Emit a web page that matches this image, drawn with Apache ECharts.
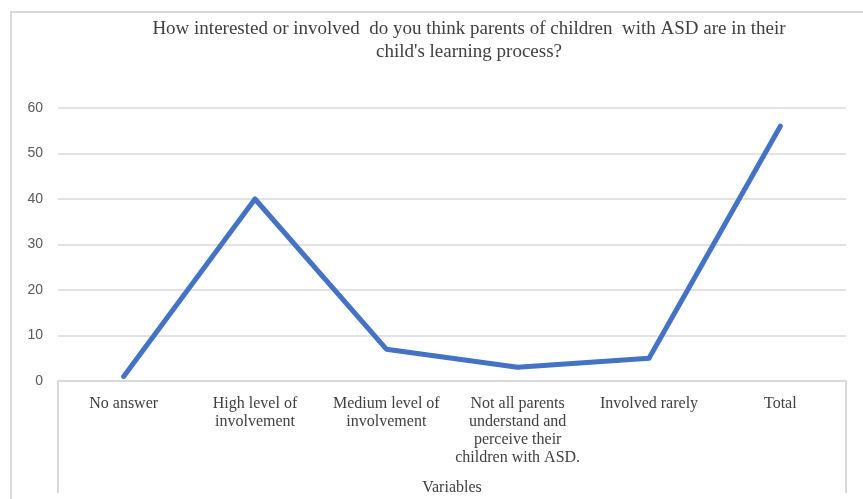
<!DOCTYPE html>
<html>
<head>
<meta charset="utf-8">
<script src="https://cdn.jsdelivr.net/npm/echarts@6/dist/echarts.min.js"></script>
<style>
html,body{margin:0;padding:0;background:#fff;overflow:hidden;}
#frame{position:absolute;left:10px;top:11px;width:880px;height:520px;border:2px solid #d9d9d9;box-sizing:border-box;}
#chart{position:absolute;left:0;top:0;width:863px;height:499px;}
</style>
</head>
<body>
<div id="frame"></div>
<div id="chart"></div>
<script>
const categories = [
  "No answer",
  "High level of\ninvolvement",
  "Medium level of\ninvolvement",
  "Not all parents\nunderstand and\nperceive their\nchildren with ASD.",
  "Involved rarely",
  "Total"
];
const values = [1, 40, 7, 3, 5, 56];
const titleText = "How interested or involved  do you think parents of children  with ASD are in their\nchild's learning process?";
const xAxisName = "Variables";

const chart = echarts.init(document.getElementById('chart'), null, {renderer: 'canvas', width: 863, height: 499});
const serif = "'Liberation Serif', 'DejaVu Serif', serif";
chart.setOption({
  animation: false,
  backgroundColor: 'transparent',
  title: {
    text: titleText,
    left: 464,
    top: 13,
    textAlign: 'center',
    textStyle: {fontFamily: serif, fontSize: 19, fontWeight: 'normal', color: '#404040', lineHeight: 23}
  },
  grid: {left: 58, right: 17, top: 108, height: 273, containLabel: false, outerBoundsMode: 'none'},
  xAxis: {
    type: 'category',
    data: categories,
    boundaryGap: true,
    axisLine: {show: true, lineStyle: {color: '#d9d9d9', width: 2}},
    axisTick: {show: false},
    axisLabel: {interval: 0, fontFamily: serif, fontSize: 16, color: '#404040', lineHeight: 18, margin: 14},
    name: xAxisName,
    nameLocation: 'middle',
    nameGap: 99,
    nameTextStyle: {fontFamily: serif, fontSize: 16, color: '#404040'}
  },
  yAxis: {
    type: 'value',
    min: 0, max: 60, interval: 10,
    axisLine: {show: false},
    axisTick: {show: false},
    axisLabel: {fontFamily: "'Liberation Sans', Arial, sans-serif", fontSize: 14, color: '#595959', margin: 15},
    splitLine: {lineStyle: {color: '#d9d9d9', width: 1.5}}
  },
  series: [{
    type: 'line',
    data: values,
    symbol: 'none',
    lineStyle: {color: '#4472C4', width: 5, cap: 'round', join: 'round'},
    itemStyle: {color: '#4472C4'}
  }]
});

// vertical boundary lines extending from axis ends down through label area
const grid = chart.getModel().getComponent('grid').coordinateSystem.getRect();
chart.setOption({
  graphic: [
    {type: 'line', shape: {x1: grid.x, y1: grid.y + grid.height, x2: grid.x, y2: 493}, style: {stroke: '#d9d9d9', lineWidth: 2}},
    {type: 'line', shape: {x1: grid.x + grid.width, y1: grid.y + grid.height, x2: grid.x + grid.width, y2: 493}, style: {stroke: '#d9d9d9', lineWidth: 2}}
  ]
});
</script>
</body>
</html>
